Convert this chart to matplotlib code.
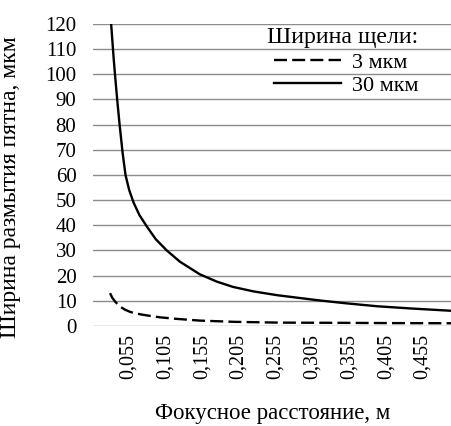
import matplotlib
matplotlib.use("Agg")
import matplotlib.pyplot as plt

plt.rcParams['font.family'] = ['Liberation Serif', 'DejaVu Serif']

# values
f_30 = [0.0315, 0.033, 0.035, 0.037, 0.040, 0.043, 0.047, 0.051, 0.056, 0.062, 0.070,
        0.080, 0.092, 0.107, 0.125, 0.152, 0.175, 0.197, 0.225, 0.257, 0.290,
        0.315, 0.350, 0.393, 0.440, 0.494]
w_30 = [120, 114, 106, 99, 89, 80, 69, 60, 54, 49, 44,
        39.5, 34.5, 30, 25.5, 20.5, 17.6, 15.5, 13.7, 12.2, 11.0,
        10.1, 9.0, 7.8, 6.9, 6.0]

f_3 = [0.030, 0.033, 0.037, 0.044, 0.050, 0.057, 0.064, 0.075, 0.086, 0.098, 0.120,
       0.152, 0.200, 0.260, 0.350, 0.420, 0.494]
w_3 = [13, 11.2, 9.6, 7.6, 6.5, 5.6, 5.0, 4.4, 3.9, 3.4, 2.8,
       2.1, 1.6, 1.3, 1.2, 1.1, 1.05]

xticks = [0.055, 0.105, 0.155, 0.205, 0.255, 0.305, 0.355, 0.405, 0.455]
xticklabels = [f"{t:.3f}".replace('.', ',') for t in xticks]
yticks = list(range(0, 121, 10))

fig = plt.figure(figsize=(4.52, 4.26), dpi=100)
ax = fig.add_axes([0.206, 0.235, 0.794, 0.709])

ax.plot(f_3, w_3, color='black', lw=1.7, dashes=(5.5, 2.2), label='3 мкм')
ax.plot(f_30, w_30, color='black', lw=1.7, label='30 мкм')

ax.set_xlim(0.007, 0.4948)
ax.set_ylim(0, 120)
ax.set_xticks(xticks)
ax.set_xticklabels(xticklabels, rotation=90, fontsize=14.5)
ax.set_yticks(yticks)
ax.set_yticklabels([str(v) for v in yticks], fontsize=15)
ax.tick_params(length=0, pad=6)
ax.tick_params(axis='y', pad=12)
ax.grid(axis='y', color='#8c8c8c', lw=1.0)
ax.set_axisbelow(True)
for s in ax.spines.values():
    s.set_visible(False)

ax.set_xlabel('Фокусное расстояние, м', fontsize=16.5)
ax.set_ylabel('Ширина размытия пятна, мкм', fontsize=17)
ax.xaxis.set_label_coords(0.5, -0.255)
ax.yaxis.set_label_coords(-0.2, 0.46)

leg = ax.legend(title='Ширина щели:', loc='upper right', bbox_to_anchor=(0.95, 1.04),
                frameon=False, fontsize=16, title_fontsize=17.2, handlelength=3.0,
                handletextpad=0.5, labelspacing=0.1, borderpad=0.2)
leg._legend_box.align = 'right'
leg._legend_box.sep = 3

fig.savefig('out.png', dpi=100)
